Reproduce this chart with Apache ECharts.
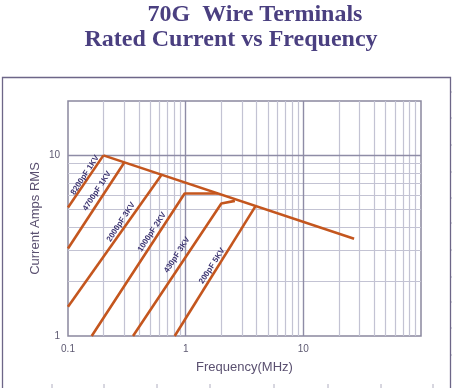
<!DOCTYPE html>
<html>
<head>
<meta charset="utf-8">
<script src="https://cdn.jsdelivr.net/npm/echarts@6/dist/echarts.min.js"></script>
<style>html,body{margin:0;padding:0;background:#fff}#c{width:452px;height:388px}</style>
</head>
<body>
<div id="c"></div>
<script>
// ---- data (frequency MHz, current A RMS) ----
var envelope = [[0.2, 10], [27, 3.45]];
var c8200pF = [[0.1, 5.15], [0.2, 10]];
var c4700pF = [[0.1, 3.05], [0.3, 9.1]];
var c2000pF = [[0.1, 1.45], [0.62, 7.75]];
var c1000pF = [[0.159, 1], [0.98, 6.15], [1.88, 6.15]];
var c430pF  = [[0.357, 1], [2.01, 5.42], [2.62, 5.6]];
var c200pF  = [[0.807, 1], [3.9, 5.2]];
var lineNames = ['8200pF 1KV', '4700pF 1KV', '2000pF 3KV', '1000pF 2KV', '430pF 3KV', '200pF 5KV'];
var xTickLabels = [0.1, 1, 10];
var yTickLabels = [1, 10];
var xMinorGrid = [0.2,0.3,0.4,0.5,0.6,0.7,0.8,0.9,2,3,4,5,6,7,8,9,20,30,40,50,60,70,80,90];
var xMajorGrid = [1, 10];
var yMinorGrid = [2,3,4,5,6,7,8,9];
var yMajorGrid = [10];

var chart = echarts.init(document.getElementById('c'), null, {renderer: 'canvas'});

var ORANGE = '#c4561e';
var MINOR = '#c3c3d3';
var MAJOR = '#8e8ca6';

var gridMarks = [];
xMinorGrid.forEach(function (v) { gridMarks.push({xAxis: v, lineStyle: {color: MINOR, width: 1.2, type: 'solid'}}); });
yMinorGrid.forEach(function (v) { gridMarks.push({yAxis: v, lineStyle: {color: MINOR, width: 1.2, type: 'solid'}}); });
xMajorGrid.forEach(function (v) { gridMarks.push({xAxis: v, lineStyle: {color: MAJOR, width: 1.4, type: 'solid'}}); });
yMajorGrid.forEach(function (v) { gridMarks.push({yAxis: v, lineStyle: {color: MAJOR, width: 1.4, type: 'solid'}}); });

function lineSeries(name, data) {
  return {
    name: name, type: 'line', data: data, symbol: 'none', z: 5,
    lineStyle: {color: ORANGE, width: 2.6}, animation: false, silent: true
  };
}

// label texts along the lines (pixel layout)
var labelPos = [[85, 175], [97, 191], [121, 222], [152, 232], [177, 255], [212, 266]];
var rot = 57 * Math.PI / 180;
var graphics = [
  {type: 'text', x: 255, y: 15, style: {text: '70G  Wire Terminals', font: 'bold 24px "Liberation Serif"', fill: '#4a3f80', align: 'center', verticalAlign: 'middle'}},
  {type: 'text', x: 231, y: 40, style: {text: 'Rated Current vs Frequency', font: 'bold 24px "Liberation Serif"', fill: '#4a3f80', align: 'center', verticalAlign: 'middle'}},
  {type: 'rect', shape: {x: 2.5, y: 77.5, width: 448, height: 330}, style: {fill: 'none', stroke: '#6d6688', lineWidth: 1.3}, z: 1}
];
lineNames.forEach(function (t, i) {
  graphics.push({type: 'text', x: labelPos[i][0], y: labelPos[i][1], rotation: rot, z: 10,
    style: {text: t, font: 'bold 8px "Liberation Sans"', fill: '#3e3672', align: 'center', verticalAlign: 'middle'}});
});
[52, 104, 157, 210, 274, 328, 381, 433].forEach(function (x) {
  graphics.push({type: 'line', shape: {x1: x, y1: 384, x2: x, y2: 388}, style: {stroke: '#b0aec0', lineWidth: 1}});
});
[92, 118, 145, 172, 198, 223, 250, 277, 302, 328, 355].forEach(function (y) {
  graphics.push({type: 'line', shape: {x1: 450, y1: y, x2: 452, y2: y}, style: {stroke: '#b0aec0', lineWidth: 1}});
});

chart.setOption({
  animation: false,
  grid: {left: 68, right: 31, top: 101, bottom: 52, show: true, borderColor: '#8a889f', borderWidth: 1.5, backgroundColor: 'transparent'},
  xAxis: {
    type: 'log', logBase: 10, min: 0.1, max: 100,
    axisLine: {show: false}, axisTick: {show: false}, splitLine: {show: false},
    axisLabel: {
      margin: 8, fontSize: 10, fontFamily: 'Liberation Sans', color: '#5e5a72',
      formatter: function (v) { return xTickLabels.some(function (t) { return Math.abs(t - v) < 1e-9; }) ? String(v) : ''; }
    },
    name: 'Frequency(MHz)', nameLocation: 'middle', nameGap: 25, nameMoveOverlap: false,
    nameTextStyle: {fontSize: 13, fontFamily: 'Liberation Sans', color: '#5a5070'}
  },
  yAxis: {
    type: 'log', logBase: 10, min: 1, max: 20,
    axisLine: {show: false}, axisTick: {show: false}, splitLine: {show: false},
    axisLabel: {
      margin: 8, fontSize: 10, fontFamily: 'Liberation Sans', color: '#5e5a72',
      formatter: function (v) { return yTickLabels.some(function (t) { return Math.abs(t - v) < 1e-9; }) ? String(v) : ''; }
    },
    name: 'Current Amps RMS', nameLocation: 'middle', nameGap: 26, nameMoveOverlap: false,
    nameTextStyle: {fontSize: 13, fontFamily: 'Liberation Sans', color: '#5a5070'}
  },
  series: [
    {type: 'line', data: [], z: 2, silent: true,
     markLine: {silent: true, symbol: ['none', 'none'], label: {show: false}, animation: false, data: gridMarks}},
    lineSeries('envelope', envelope),
    lineSeries(lineNames[0], c8200pF),
    lineSeries(lineNames[1], c4700pF),
    lineSeries(lineNames[2], c2000pF),
    lineSeries(lineNames[3], c1000pF),
    lineSeries(lineNames[4], c430pF),
    lineSeries(lineNames[5], c200pF)
  ],
  graphic: graphics
});
</script>
</body>
</html>
